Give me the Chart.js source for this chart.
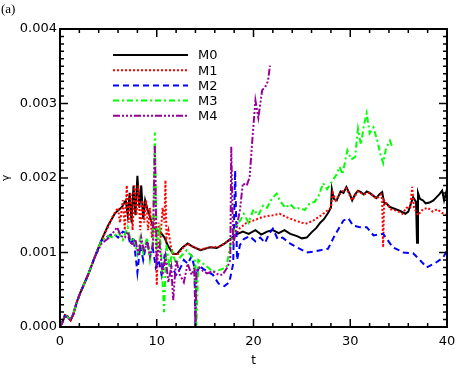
<!DOCTYPE html>
<html lang="en">
<head>
    <meta charset="UTF-8">
    <title>Growth rate</title>
    <script src="https://cdn.jsdelivr.net/npm/chart.js"></script>
    <style>
        html, body { margin: 0; padding: 0; background: #fff; }
        #wrap { width: 458px; height: 370px; }
    </style>
</head>
<body>
<div id="wrap"><canvas id="myChart" width="458" height="370"></canvas></div>

<script>
// series: t values and gamma values
const seriesNames = ['M0', 'M1', 'M2', 'M3', 'M4'];
const xTicks = [0, 10, 20, 30, 40];
const yTicks = [0, 0.001, 0.002, 0.003, 0.004];

const tM0 = [0, 0.3, 0.5, 0.8, 1.1, 1.4, 1.7, 2.1, 2.9, 3.6, 4.3, 5.0, 5.7, 6.4, 6.8, 7.0, 7.2, 7.4, 7.6, 7.8, 8.0, 8.2, 8.4, 8.6, 8.8, 9.0, 9.3, 9.6, 10.0, 10.4, 10.8, 11.2, 11.7, 12.1, 12.6, 13.2, 13.7, 14.5, 15.0, 15.5, 16.2, 17.0, 17.6, 18.2, 18.9, 19.5, 20.2, 20.8, 21.4, 22.0, 22.6, 23.2, 23.8, 24.5, 25.0, 25.5, 26.0, 26.5, 26.9, 27.3, 27.7, 28.0, 28.1, 28.3, 28.6, 29.0, 29.3, 29.6, 30.0, 30.2, 30.5, 30.8, 31.1, 31.4, 31.7, 32.0, 32.4, 32.7, 33.0, 33.3, 33.5, 33.8, 34.1, 34.5, 35.1, 35.7, 36.0, 36.2, 36.5, 36.8, 36.9, 37.0, 37.2, 37.5, 37.8, 38.2, 38.6, 38.9, 39.2, 39.5, 39.7, 40.0];
const gM0 = [0, 0.00008, 0.00016, 0.00014, 0.00009, 0.00018, 0.00032, 0.00046, 0.0007, 0.00094, 0.00117, 0.00137, 0.00153, 0.00161, 0.0017, 0.0015, 0.0018, 0.0014, 0.0019, 0.0015, 0.00203, 0.0016, 0.0019, 0.00145, 0.0017, 0.0016, 0.00148, 0.00135, 0.0013, 0.00127, 0.0012, 0.00108, 0.00098, 0.00098, 0.00106, 0.00112, 0.00108, 0.00103, 0.00105, 0.00107, 0.00106, 0.00112, 0.00118, 0.00124, 0.00128, 0.00125, 0.0013, 0.00124, 0.00128, 0.0013, 0.00126, 0.0013, 0.00125, 0.00122, 0.00119, 0.0012, 0.00127, 0.00133, 0.0014, 0.00145, 0.00153, 0.0016, 0.00185, 0.00172, 0.0017, 0.00182, 0.0018, 0.00188, 0.00177, 0.0017, 0.00178, 0.00183, 0.00181, 0.00178, 0.00182, 0.0018, 0.00176, 0.00173, 0.00178, 0.00181, 0.00167, 0.00165, 0.00161, 0.00159, 0.00156, 0.00152, 0.00155, 0.00163, 0.00174, 0.00168, 0.00113, 0.0018, 0.00172, 0.0017, 0.00166, 0.00167, 0.0017, 0.00174, 0.00178, 0.00183, 0.0017, 0.00185];

const tM1 = [0, 0.3, 0.5, 0.8, 1.1, 1.4, 1.7, 2.1, 2.9, 3.6, 4.3, 5.0, 5.5, 6.0, 6.2, 6.5, 6.7, 6.9, 7.1, 7.3, 7.5, 7.7, 7.9, 8.1, 8.3, 8.5, 8.7, 8.9, 9.1, 9.3, 9.5, 9.7, 9.9, 10.0, 10.2, 10.4, 10.6, 10.8, 10.9, 11.0, 11.2, 11.5, 11.8, 12.2, 12.7, 13.2, 13.7, 14.5, 15.5, 16.5, 17.3, 18.0, 18.6, 19.3, 20.0, 21.0, 22.0, 22.7, 23.5, 24.3, 25.0, 25.5, 26.2, 27.0, 27.6, 28.0, 28.2, 28.5, 29.0, 29.6, 30.2, 30.8, 31.4, 32.0, 32.7, 33.2, 33.3, 33.4, 33.5, 33.8, 34.2, 34.8, 35.4, 35.8, 36.2, 36.4, 36.6, 37.0, 37.5, 38.0, 38.5, 39.0, 39.5, 40.0];
const gM1 = [0, 0.00008, 0.00016, 0.00014, 0.00009, 0.00018, 0.00032, 0.00046, 0.0007, 0.00094, 0.00117, 0.00135, 0.0015, 0.0016, 0.0014, 0.0017, 0.0013, 0.0019, 0.0014, 0.0018, 0.0013, 0.0019, 0.0015, 0.0019, 0.0013, 0.0017, 0.0014, 0.0017, 0.0013, 0.0016, 0.0012, 0.0015, 0.0012, 0.00056, 0.0014, 0.0012, 0.0016, 0.0014, 0.00197, 0.0012, 0.0013, 0.00105, 0.00098, 0.00098, 0.00106, 0.00112, 0.00108, 0.00104, 0.00107, 0.00108, 0.00115, 0.0012, 0.00133, 0.0014, 0.00143, 0.00148, 0.0015, 0.00152, 0.00147, 0.00143, 0.0014, 0.00139, 0.00143, 0.0015, 0.00156, 0.0016, 0.0018, 0.0017, 0.0018, 0.00186, 0.0017, 0.00182, 0.00178, 0.0018, 0.00172, 0.00178, 0.0017, 0.00107, 0.0017, 0.00165, 0.00158, 0.00156, 0.00152, 0.0016, 0.0016, 0.00188, 0.0016, 0.0015, 0.00158, 0.0016, 0.00155, 0.00158, 0.00153, 0.0015];

const tM2 = [0, 0.3, 0.5, 0.8, 1.1, 1.4, 1.7, 2.1, 2.9, 3.6, 4.3, 5.0, 5.5, 6.0, 6.5, 7.0, 7.3, 7.6, 8.0, 8.3, 8.6, 9.0, 9.3, 9.6, 9.9, 10.2, 10.5, 10.8, 11.2, 11.6, 12.0, 12.4, 12.8, 13.2, 13.6, 13.9, 14.0, 14.1, 14.4, 14.8, 15.2, 15.8, 16.4, 17.0, 17.5, 17.9, 18.1, 18.3, 18.6, 19.0, 19.6, 20.2, 20.7, 21.2, 21.6, 22.0, 22.5, 23.0, 23.8, 24.5, 25.5, 26.2, 26.9, 27.7, 28.4, 29.3, 29.8, 30.3, 31.0, 31.7, 32.4, 33.4, 34.4, 35.5, 36.5, 37.2, 37.9, 38.8, 39.6, 40.0];
const gM2 = [0, 0.00009, 0.00015, 0.00013, 0.0001, 0.00018, 0.00032, 0.00046, 0.0007, 0.00094, 0.00116, 0.00122, 0.00126, 0.0012, 0.00128, 0.00125, 0.0011, 0.0012, 0.00073, 0.0011, 0.0009, 0.00118, 0.00095, 0.00105, 0.0008, 0.0009, 0.0007, 0.00095, 0.00085, 0.0008, 0.0007, 0.00078, 0.0009, 0.00085, 0.00095, 0.0008, 0, 0.0007, 0.00082, 0.00078, 0.00075, 0.0007, 0.00058, 0.00055, 0.0006, 0.00085, 0.0021, 0.0009, 0.0011, 0.00118, 0.00122, 0.00115, 0.0012, 0.00113, 0.00125, 0.00132, 0.00118, 0.0012, 0.00112, 0.00107, 0.001, 0.00101, 0.00103, 0.00105, 0.00123, 0.00143, 0.00146, 0.00136, 0.00134, 0.00134, 0.00123, 0.00125, 0.00107, 0.001, 0.00099, 0.0009, 0.0008, 0.00086, 0.00093, 0.00103];

const tM3 = [0, 0.3, 0.5, 0.8, 1.1, 1.4, 1.7, 2.1, 2.9, 3.6, 4.3, 5.0, 5.5, 6.0, 6.5, 7.0, 7.3, 7.6, 8.0, 8.3, 8.6, 9.0, 9.3, 9.6, 9.8, 10.0, 10.3, 10.5, 10.75, 11.0, 11.3, 11.6, 12.0, 12.5, 13.1, 13.6, 14.0, 14.1, 14.3, 14.8, 15.3, 15.8, 16.4, 17.2, 17.6, 18.0, 18.5, 19.0, 19.5, 20.0, 20.5, 21.0, 21.4, 21.8, 22.0, 22.4, 22.7, 23.3, 23.8, 24.3, 24.8, 25.3, 25.8, 26.3, 26.7, 27.2, 27.6, 28.2, 28.6, 28.9, 29.2, 29.7, 30.1, 30.5, 30.8, 31.1, 31.4, 31.7, 32.0, 32.4, 32.8, 33.1, 33.4, 33.7, 34.1, 34.4];
const gM3 = [0, 0.00008, 0.00016, 0.00013, 0.0001, 0.00018, 0.00032, 0.00046, 0.0007, 0.00094, 0.00116, 0.00122, 0.0012, 0.00128, 0.00117, 0.00134, 0.00116, 0.0012, 0.00098, 0.0012, 0.001, 0.0012, 0.0009, 0.00115, 0.00261, 0.0011, 0.0013, 0.0009, 0.0002, 0.0011, 0.0008, 0.001, 0.00085, 0.00095, 0.00103, 0.00095, 0.00088, 0, 0.0009, 0.00085, 0.0008, 0.00074, 0.00076, 0.0008, 0.0011, 0.0013, 0.0014, 0.00152, 0.0014, 0.00158, 0.0015, 0.00163, 0.0016, 0.0017, 0.00174, 0.00179, 0.0017, 0.0016, 0.00165, 0.00158, 0.0016, 0.00157, 0.00166, 0.00168, 0.00175, 0.00193, 0.00185, 0.00197, 0.00205, 0.00215, 0.00205, 0.00237, 0.00225, 0.00228, 0.00266, 0.00245, 0.0027, 0.00287, 0.0026, 0.00268, 0.0025, 0.00233, 0.0022, 0.0024, 0.0025, 0.0024];

const tM4 = [0, 0.3, 0.5, 0.8, 1.1, 1.4, 1.7, 2.1, 2.9, 3.6, 4.3, 5.0, 5.4, 5.9, 6.3, 6.7, 7.0, 7.4, 7.8, 8.1, 8.4, 8.7, 9.0, 9.3, 9.6, 9.8, 10.0, 10.3, 10.6, 10.9, 11.2, 11.5, 11.7, 12.0, 12.4, 12.8, 13.2, 13.6, 13.9, 14.0, 14.1, 14.4, 14.8, 15.2, 15.8, 16.4, 16.8, 17.3, 17.6, 17.7, 17.9, 18.2, 18.6, 18.9, 19.3, 19.6, 19.9, 20.2, 20.5, 20.9, 21.2, 21.5, 21.7];
const gM4 = [0, 0.00007, 0.00015, 0.00012, 0.00009, 0.00018, 0.00032, 0.00046, 0.0007, 0.00094, 0.00112, 0.00119, 0.00125, 0.00134, 0.00122, 0.0012, 0.00128, 0.0011, 0.00118, 0.00095, 0.0012, 0.001, 0.00115, 0.00095, 0.0011, 0.00244, 0.0009, 0.0011, 0.0007, 0.00095, 0.0006, 0.0008, 0.00036, 0.0009, 0.0007, 0.0006, 0.00085, 0.0007, 0.0008, 0, 0.00075, 0.0008, 0.00075, 0.00072, 0.00075, 0.0007, 0.0007, 0.0008, 0.0009, 0.00242, 0.0011, 0.0013, 0.00157, 0.00193, 0.0019, 0.00201, 0.00255, 0.00304, 0.00281, 0.00318, 0.00322, 0.0033, 0.00351];

const colors = ['#000000', '#ff0000', '#0000ff', '#00ff00', '#990099'];
const dashes = [[], [2, 2], [6, 4], [6, 3, 2, 3], [7, 2, 2, 2, 2, 2, 2, 2]];

const ts = [tM0, tM1, tM2, tM3, tM4];
const gs = [gM0, gM1, gM2, gM3, gM4];

const toPoints = (t, g) => t.map((v, i) => ({ x: v, y: g[i] }));

// IDL style frame with inward ticks on all sides + legend inside the plot
const frameTicks = {
    id: 'frameTicks',
    afterDatasetsDraw(chart) {
        const { ctx, chartArea: a, scales: { x, y } } = chart;
        ctx.save();
        ctx.strokeStyle = '#000';
        ctx.lineWidth = 1.5;
        ctx.setLineDash([]);
        ctx.beginPath();
        for (let v = 0; v <= 40; v += 2) {
            const px = x.getPixelForValue(v);
            const len = v % 10 === 0 ? 8 : 4;
            ctx.moveTo(px, a.bottom); ctx.lineTo(px, a.bottom - len);
            ctx.moveTo(px, a.top); ctx.lineTo(px, a.top + len);
        }
        for (let i = 0; i <= 40; i++) {
            const py = y.getPixelForValue(i * 0.0001);
            const len = i % 10 === 0 ? 8 : 4;
            ctx.moveTo(a.left, py); ctx.lineTo(a.left + len, py);
            ctx.moveTo(a.right, py); ctx.lineTo(a.right - len, py);
        }
        ctx.stroke();
        ctx.lineWidth = 2;
        ctx.strokeRect(a.left, a.top, a.width, a.height);

        // legend
        const lx = a.left + 53, ly = a.top + 26;
        ctx.font = '13px "DejaVu Sans"';
        ctx.textBaseline = 'middle';
        ctx.fillStyle = '#000';
        chart.data.datasets.forEach((ds, i) => {
            const yy = ly + i * 15.2;
            ctx.strokeStyle = ds.borderColor;
            ctx.lineWidth = 2;
            ctx.setLineDash(ds.borderDash);
            ctx.beginPath();
            ctx.moveTo(lx, yy); ctx.lineTo(lx + 75, yy);
            ctx.stroke();
            ctx.setLineDash([]);
            ctx.fillText(ds.label, lx + 85, yy + 1);
        });

        // panel label
        ctx.font = '13px "Liberation Serif"';
        ctx.textBaseline = 'top';
        ctx.fillText('(a)', 1, 3);
        ctx.restore();
    }
};

const ctx = document.getElementById('myChart').getContext('2d');
const myChart = new Chart(ctx, {
    type: 'line',
    data: {
        datasets: seriesNames.map((name, i) => ({
            label: name,
            data: toPoints(ts[i], gs[i]),
            borderColor: colors[i],
            borderDash: dashes[i],
            borderWidth: 2,
            pointRadius: 0,
            tension: 0,
            fill: false,
            order: seriesNames.length - i
        }))
    },
    options: {
        responsive: false,
        animation: false,
        layout: { padding: { top: 29, right: 11, left: 0, bottom: 0 } },
        plugins: {
            legend: { display: false },
            tooltip: { enabled: false }
        },
        scales: {
            x: {
                type: 'linear',
                min: 0, max: 40,
                afterBuildTicks: s => { s.ticks = xTicks.map(v => ({ value: v })); },
                afterFit: s => { s.height = 43; s.paddingLeft = 0; s.paddingRight = 0; },
                grid: { display: false, drawTicks: false },
                border: { display: false },
                ticks: { color: '#000', padding: 7, maxRotation: 0, font: { family: 'DejaVu Sans', size: 13 } },
                title: { display: true, text: 't', color: '#000', padding: { top: 0, bottom: 2 }, font: { family: 'DejaVu Sans', size: 12 } }
            },
            y: {
                type: 'linear',
                min: 0, max: 0.004,
                afterBuildTicks: s => { s.ticks = yTicks.map(v => ({ value: v })); },
                afterFit: s => { s.width = 60; s.paddingTop = 0; s.paddingBottom = 0; },
                grid: { display: false, drawTicks: false },
                border: { display: false },
                ticks: { color: '#000', padding: 3, font: { family: 'DejaVu Sans', size: 13 }, callback: v => v.toFixed(3) },
                title: { display: true, text: 'γ', color: '#000', padding: { top: 0, bottom: 0 }, font: { family: 'DejaVu Sans', size: 11 } }
            }
        }
    },
    plugins: [frameTicks]
});
</script>
</body>
</html>
